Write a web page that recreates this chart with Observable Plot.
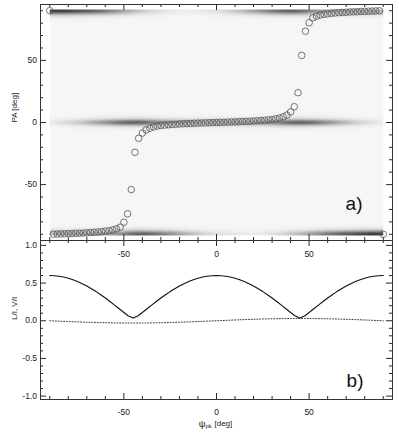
<!DOCTYPE html>
<html><head><meta charset="utf-8">
<script src="https://cdn.jsdelivr.net/npm/d3@7"></script>
<script src="https://cdn.jsdelivr.net/npm/@observablehq/plot@0.6"></script>
<style>
body{margin:0;background:#fff;}
#chart{position:relative;width:399px;height:439px;background:#fff;}
#chart svg{position:absolute;left:0;top:0;}
</style></head><body><div id="chart"></div>
<script>
// ---- panel a) : position angle circles ----
const psiPts = [-90,-88,-86,-84,-82,-80,-78,-76,-74,-72,-70,-68,-66,-64,-62,-60,-58,-56,-54,-52,-50,-48,-46,-44,-42,-40,-38,-36,-34,-32,-30,-28,-26,-24,-22,-20,-18,-16,-14,-12,-10,-8,-6,-4,-2,0,2,4,6,8,10,12,14,16,18,20,22,24,26,28,30,32,34,36,38,40,42,44,46,48,50,52,54,56,58,60,62,64,66,68,70,72,74,76,78,80,82,84,86,88,90];
const paPts = [90,-89.9,-89.8,-89.7,-89.6,-89.5,-89.4,-89.2,-89.1,-89.0,-88.8,-88.6,-88.4,-88.2,-87.9,-87.5,-87.1,-86.5,-85.6,-84.3,-80.3,-73.5,-54,-24,-12.7,-8.5,-6.0,-4.6,-3.6,-2.9,-2.4,-2.1,-1.8,-1.6,-1.4,-1.2,-1.0,-0.9,-0.8,-0.6,-0.5,-0.4,-0.3,-0.2,-0.1,0,0.1,0.2,0.3,0.4,0.5,0.6,0.8,0.9,1.0,1.2,1.4,1.6,1.8,2.1,2.4,2.9,3.6,4.6,6.0,8.5,12.7,24,54,73.5,80.3,84.3,85.6,86.5,87.1,87.5,87.9,88.2,88.4,88.6,88.8,89.0,89.1,89.2,89.4,89.5,89.6,89.7,89.8,89.9,-90];

// ---- panel a) : grey-scale PA density bands (darkness 0..1) ----
const psiHeat = [-90,-85,-80,-75,-70,-65,-60,-55,-50,-45,-40,-35,-30,-25,-20,-15,-10,-5,0,5,10,15,20,25,30,35,40,45,50,55,60,65,70,75,80,85,90];
const bandTop = [.85,.9,.85,.8,.75,.68,.6,.5,.4,.3,.22,.15,.1,.07,.05,.05,.06,.08,.1,.15,.22,.3,.4,.5,.6,.68,.72,.68,.55,.45,.4,.35,.35,.35,.35,.35,.3];
const bandMid = [.05,.1,.15,.22,.3,.4,.5,.6,.7,.75,.72,.62,.52,.45,.4,.38,.36,.35,.35,.35,.36,.38,.4,.45,.52,.62,.72,.75,.7,.6,.5,.4,.3,.22,.15,.1,.05];
const bandBot = [.3,.35,.35,.35,.35,.35,.4,.45,.55,.68,.72,.68,.6,.5,.4,.3,.22,.15,.1,.08,.06,.05,.05,.07,.1,.15,.22,.3,.4,.5,.6,.68,.75,.8,.85,.9,.85];

// ---- panel b) : L/I and V/I ----
const psiLine = [-90,-87.5,-85,-82.5,-80,-77.5,-75,-72.5,-70,-67.5,-65,-62.5,-60,-57.5,-55,-52.5,-50,-47.5,-45,-42.5,-40,-37.5,-35,-32.5,-30,-27.5,-25,-22.5,-20,-17.5,-15,-12.5,-10,-7.5,-5,-2.5,0,2.5,5,7.5,10,12.5,15,17.5,20,22.5,25,27.5,30,32.5,35,37.5,40,42.5,45,47.5,50,52.5,55,57.5,60,62.5,65,67.5,70,72.5,75,77.5,80,82.5,85,87.5,90];
const linPol = [.600,.598,.591,.580,.564,.544,.520,.492,.460,.425,.387,.345,.302,.256,.208,.159,.110,.063,.035,.063,.110,.159,.208,.256,.302,.345,.387,.425,.460,.492,.520,.544,.564,.580,.591,.598,.600,.598,.591,.580,.564,.544,.520,.492,.460,.425,.387,.345,.302,.256,.208,.159,.110,.063,.035,.063,.110,.159,.208,.256,.302,.345,.387,.425,.460,.492,.520,.544,.564,.580,.591,.598,.600];
const circPol = [0,-.0026,-.0052,-.0078,-.0103,-.0127,-.015,-.0172,-.0193,-.0212,-.023,-.0246,-.026,-.0272,-.0282,-.029,-.0295,-.0299,-.03,-.0299,-.0295,-.029,-.0282,-.0272,-.026,-.0246,-.023,-.0212,-.0193,-.0172,-.015,-.0127,-.0103,-.0078,-.0052,-.0026,0,.0026,.0052,.0078,.0103,.0127,.015,.0172,.0193,.0212,.023,.0246,.026,.0272,.0282,.029,.0295,.0299,.03,.0299,.0295,.029,.0282,.0272,.026,.0246,.023,.0212,.0193,.0172,.015,.0127,.0103,.0078,.0052,.0026,0];

// ---- ticks ----
const xMajor = [-50,0,50];
const xMinor = [-90,-80,-70,-60,-40,-30,-20,-10,10,20,30,40,60,70,80,90];
const paMajor = [-50,0,50];
const paMinor = [-90,-80,-70,-60,-40,-30,-20,-10,10,20,30,40,60,70,80,90];
const polMajor = [-1,-0.5,0,0.5,1];
const polMinor = [-0.9,-0.8,-0.7,-0.6,-0.4,-0.3,-0.2,-0.1,0.1,0.2,0.3,0.4,0.6,0.7,0.8,0.9];

// vertical band profiles (styling)
const edgeOff = [0,1.5,3,5,7.5,10], edgeW = [.85,1,.6,.15,.02,0];
const midOff = [-8,-5,-3,-1.5,0,1.5,3,5,8], midW = [0,.04,.2,.65,1,.65,.2,.04,0];

const heat = [];
psiHeat.forEach((p,i)=>{
  edgeOff.forEach((o,k)=>{
    heat.push({psi:p, pa: 91-o, v: bandTop[i]*edgeW[k]});
    heat.push({psi:p, pa: -91+o, v: bandBot[i]*edgeW[k]});
  });
  midOff.forEach((o,k)=> heat.push({psi:p, pa:o, v: bandMid[i]*midW[k]}));
});
const circles = psiPts.map((x,i)=>({psi:x, pa:paPts[i]}));
const pol = psiLine.map((x,i)=>({psi:x, L:linPol[i], V:circPol[i]}));

const font = "'Liberation Sans', Arial, Helvetica, sans-serif";
const ink = "#2a2a2a";
const fmtInt = d => String(d);
const fmt1 = d => d.toFixed(1);

function xTicks(yTop, yBot, majLen, minLen) {
  return [
    Plot.ruleX(xMajor, {x: d=>d, y1: yTop, y2: yTop-majLen, stroke: ink}),
    Plot.ruleX(xMinor, {x: d=>d, y1: yTop, y2: yTop-minLen, stroke: ink}),
    Plot.ruleX(xMajor, {x: d=>d, y1: yBot, y2: yBot+majLen, stroke: ink}),
    Plot.ruleX(xMinor, {x: d=>d, y1: yBot, y2: yBot+minLen, stroke: ink})
  ];
}
function yTicks(maj, min, majLen, minLen) {
  return [
    Plot.ruleY(maj, {y: d=>d, x1: -95, x2: -95+majLen, stroke: ink}),
    Plot.ruleY(min, {y: d=>d, x1: -95, x2: -95+minLen, stroke: ink}),
    Plot.ruleY(maj, {y: d=>d, x1: 95, x2: 95-majLen, stroke: ink}),
    Plot.ruleY(min, {y: d=>d, x1: 95, x2: 95-minLen, stroke: ink})
  ];
}

const topPlot = Plot.plot({
  width: 399, height: 439,
  marginTop: 4, marginBottom: 199, marginLeft: 40, marginRight: 7,
  style: {background: "transparent", fontFamily: font, fontSize: "8.5px", color: "#222", overflow: "visible"},
  x: {domain: [-95, 95]},
  y: {domain: [-95, 95]},
  color: {type: "linear", domain: [0, 1], range: ["#f6f6f6", "#1c1c1c"], clamp: true},
  marks: [
    Plot.raster(heat, {x: "psi", y: "pa", fill: "v", interpolate: "barycentric", x1: -90, x2: 90, y1: -91, y2: 91}),
    Plot.dot(circles, {x: "psi", y: "pa", r: 3.3, stroke: "#555", strokeWidth: 0.8, fill: "none"}),
    ...xTicks(95, -95, 4.83, 2.42),
    ...yTicks(paMajor, paMinor, 3.24, 1.62),
    Plot.frame({stroke: "#333"}),
    Plot.axisX(xMajor, {anchor: "bottom", tickSize: 0, tickPadding: 10, tickFormat: fmtInt, label: null}),
    Plot.axisY(paMajor, {anchor: "left", tickSize: 0, tickPadding: 3.5, tickFormat: fmtInt, label: null}),
    Plot.text(["PA [deg]"], {frameAnchor: "left", dx: -26, rotate: -90, fontSize: 8, fill: "#222"}),
    Plot.text(["a)"], {frameAnchor: "bottom-right", textAnchor: "end", lineAnchor: "bottom", dx: -30, dy: -30.5, fontSize: 19, fill: "#111"})
  ]
});

const botPlot = Plot.plot({
  width: 399, height: 439,
  marginTop: 240, marginBottom: 40, marginLeft: 40, marginRight: 7,
  style: {background: "transparent", fontFamily: font, fontSize: "8.5px", color: "#222", overflow: "visible"},
  x: {domain: [-95, 95]},
  y: {domain: [-1.045, 1.065]},
  marks: [
    Plot.line(pol, {x: "psi", y: "V", stroke: "#222", strokeWidth: 0.9, strokeDasharray: "1,1.8"}),
    Plot.line(pol, {x: "psi", y: "L", stroke: "#111", strokeWidth: 1.1}),
    ...xTicks(1.065, -1.045, 0.0796, 0.0398),
    ...yTicks(polMajor, polMinor, 3.24, 1.62),
    Plot.frame({stroke: "#333"}),
    Plot.axisX(xMajor, {anchor: "bottom", tickSize: 0, tickPadding: 9.5, tickFormat: fmtInt, label: null}),
    Plot.axisY(polMajor, {anchor: "left", tickSize: 0, tickPadding: 3.5, tickFormat: fmt1, label: null}),
    Plot.text(["L/I, V/I"], {frameAnchor: "left", dx: -26, rotate: -90, fontSize: 8, fill: "#222"}),
    Plot.text(["ψ"], {frameAnchor: "bottom", textAnchor: "end", lineAnchor: "middle", dx: -11, dy: 24, fontSize: 9.5, fill: "#222"}),
    Plot.text(["pk"], {frameAnchor: "bottom", textAnchor: "start", lineAnchor: "middle", dx: -11, dy: 27, fontSize: 6, fill: "#222"}),
    Plot.text(["[deg]"], {frameAnchor: "bottom", textAnchor: "start", lineAnchor: "middle", dx: -2, dy: 24, fontSize: 8, fill: "#222"}),
    Plot.text(["b)"], {frameAnchor: "bottom-right", textAnchor: "end", lineAnchor: "bottom", dx: -29, dy: -13, fontSize: 19, fill: "#111"})
  ]
});

const chart = document.getElementById("chart");
chart.appendChild(botPlot);
chart.appendChild(topPlot);
</script></body></html>
